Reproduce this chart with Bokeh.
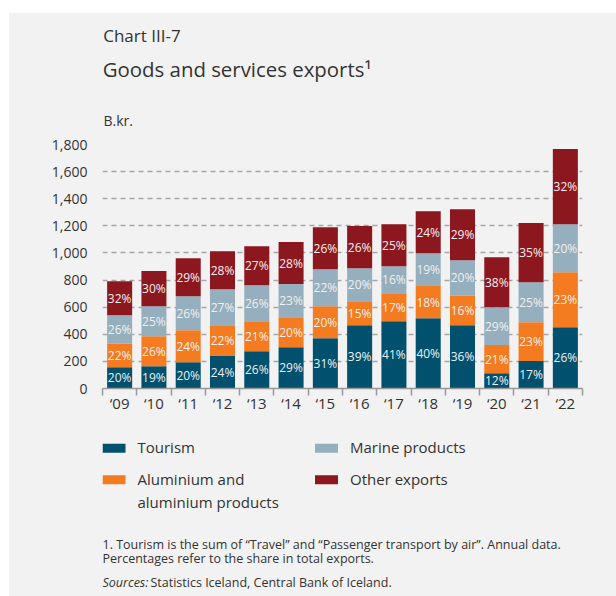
from bokeh.plotting import figure
from bokeh.models import Range1d, FixedTicker, ColumnDataSource, Spacer, NumeralTickFormatter
from bokeh.layouts import column, row
from bokeh.embed import file_html
from bokeh.resources import INLINE
from bokeh.core.properties import value

# ---------------- data ----------------
years = ["\u201809", "\u201810", "\u201811", "\u201812", "\u201813", "\u201814", "\u201815",
         "\u201816", "\u201817", "\u201818", "\u201819", "\u201820", "\u201821", "\u201822"]
tourism = [157, 165, 194, 239, 275, 305, 371, 467, 497, 519, 467, 113, 202, 452]
aluminium = [173, 221, 236, 228, 222, 221, 236, 177, 206, 238, 217, 207, 287, 406]
marine = [211, 221, 251, 266, 265, 244, 273, 244, 199, 241, 263, 280, 295, 354]
other = [251, 259, 280, 280, 288, 310, 310, 310, 310, 310, 376, 369, 436, 554]

tourism_pct = [20, 19, 20, 24, 26, 29, 31, 39, 41, 40, 36, 12, 17, 26]
aluminium_pct = [22, 26, 24, 22, 21, 20, 20, 15, 17, 18, 16, 21, 23, 23]
marine_pct = [26, 25, 26, 27, 26, 23, 22, 20, 16, 19, 20, 29, 25, 20]
other_pct = [32, 30, 29, 28, 27, 28, 26, 26, 25, 24, 29, 38, 35, 32]

series_names = ["Tourism", "Aluminium and\naluminium products", "Marine products", "Other exports"]
y_ticks = [0, 200, 400, 600, 800, 1000, 1200, 1400, 1600, 1800]

colors = ["#00506e", "#f47b20", "#95afbe", "#8d171e"]
FONT = "Open Sans"
TXT = "#333333"
BG = "#f2f2f2"
W = 607
BL, BR = 93, 34          # frame borders shared by all stacked panels


def panel(h):
    f = figure(width=W, height=h, output_backend="svg", toolbar_location=None, title=None,
               x_range=Range1d(BL, W - BR), y_range=Range1d(h, 0),
               x_axis_location=None, y_axis_location=None,
               min_border_left=BL, min_border_right=BR,
               min_border_top=0, min_border_bottom=0)
    f.grid.visible = False
    f.outline_line_color = None
    f.background_fill_color = BG
    f.border_fill_color = BG
    return f


def txt(f, s, x, y, size, style="normal"):
    f.text(x=[x], y=[y], text=[s], text_font=value(FONT), text_font_size=size,
           text_font_style=style, text_color=TXT, text_align="left", text_baseline="middle")


# ---------------- header ----------------
HH = 121
head = panel(HH)
txt(head, "Chart III-7", 93.7, 21.7, "17px")
txt(head, "Goods and services exports\u00b9", 93.2, 55.8, "20.4px")
txt(head, "B.kr.", 94, 106.5, "14px")

# ---------------- main chart ----------------
n = len(years)
xs = list(range(n))
src = ColumnDataSource(dict(x=xs, tourism=tourism, aluminium=aluminium, marine=marine, other=other))

p = figure(width=W, height=286, output_backend="svg", toolbar_location=None,
           x_range=Range1d(-0.5, n - 0.5), y_range=Range1d(0, 1800),
           min_border_left=BL, min_border_right=BR, min_border_top=10, min_border_bottom=32)
p.background_fill_color = BG
p.border_fill_color = BG
p.outline_line_color = None

p.vbar_stack(["tourism", "aluminium", "marine", "other"], x="x", width=0.73,
             color=colors, line_color=None, source=src)

stack = [tourism, aluminium, marine, other]
pcts = [tourism_pct, aluminium_pct, marine_pct, other_pct]
lx, ly, lt = [], [], []
for k, (s, pc) in enumerate(zip(stack, pcts)):
    for i in range(n):
        base = sum(stack[j][i] for j in range(k))
        lx.append(xs[i])
        ly.append(base + s[i] / 2)
        lt.append(f"{pc[i]}%")
p.text(x=lx, y=ly, text=lt, text_font=value(FONT), text_font_size="12px",
       text_color="#f0f0f0", text_align="center", text_baseline="middle")

xa = p.xaxis[0]
xa.ticker = FixedTicker(ticks=xs, minor_ticks=[i - 0.5 for i in range(n + 1)])
xa.major_label_overrides = {i: years[i] for i in range(n)}
xa.major_tick_out = 0
xa.major_tick_in = 0
xa.minor_tick_out = 7
xa.minor_tick_in = 0
xa.minor_tick_line_color = "#999999"
xa.minor_tick_line_width = 1.5
xa.axis_line_color = "#999999"
xa.axis_line_width = 1.5
xa.major_label_text_font = FONT
xa.major_label_text_font_size = "15px"
xa.major_label_text_color = TXT
xa.major_label_standoff = -3

ya = p.yaxis[0]
ya.ticker = FixedTicker(ticks=y_ticks)
ya.formatter = NumeralTickFormatter(format="0,0")
ya.axis_line_color = None
ya.major_tick_line_color = None
ya.minor_tick_line_color = None
ya.major_label_text_font = FONT
ya.major_label_text_font_size = "14px"
ya.major_label_text_color = TXT
ya.major_label_standoff = 9

p.xgrid.grid_line_color = None
p.ygrid.grid_line_color = "#a6a6a6"
p.ygrid.grid_line_width = 1.5
p.ygrid.grid_line_dash = "5 4"

# ---------------- footer: legend + notes ----------------
foot = panel(176)
leg_pos = [(93, 27.7), (93, 59.3), (305.5, 27.7), (305.5, 59.3)]
for name, col, (x0, yc) in zip(series_names, colors, leg_pos):
    foot.quad(left=[x0], right=[x0 + 23], top=[yc - 4.5], bottom=[yc + 4.5],
              fill_color=col, line_color=None)
    for j, line in enumerate(name.split("\n")):
        txt(foot, line, x0 + 35, yc - 1.2 + 23.7 * j, "15px")

txt(foot, "1. Tourism is the sum of \u201cTravel\u201d and \u201cPassenger transport by air\u201d. Annual data.",
    93, 124.3, "12.5px")
txt(foot, "Percentages refer to the share in total exports.", 93, 137.8, "12.5px")
txt(foot, "Sources:", 93, 161.5, "12.5px", style="italic")
txt(foot, "Statistics Iceland, Central Bank of Iceland.", 141, 161.5, "12.5px")

layout = column(Spacer(width=616, height=13, styles={"background-color": "white"}),
                row(Spacer(width=9, height=583, styles={"background-color": "white"}),
                    column(head, p, foot)))
html = file_html(layout, INLINE)
html = html.replace("</head>", "<style>html, body { background-color: %s; }</style></head>" % BG, 1)
open("out.html", "w").write(html)
